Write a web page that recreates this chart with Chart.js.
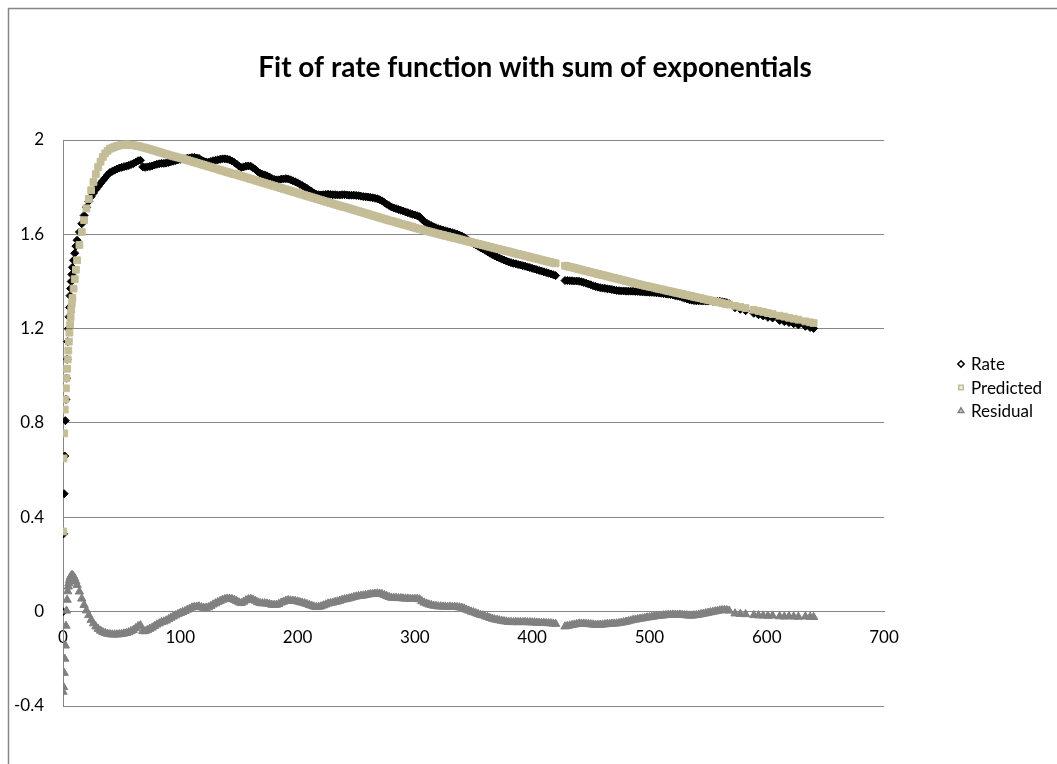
<!DOCTYPE html>
<html>
<head>
<meta charset="utf-8">
<script src="https://cdn.jsdelivr.net/npm/chart.js@4/dist/chart.umd.min.js"></script>
<style>
  html, body { margin: 0; padding: 0; background: #fff; }
  #wrap { width: 1057px; height: 764px; }
</style>
</head>
<body>
<div id="wrap"><canvas id="chart" width="1057" height="764"></canvas></div>
<script>
// Sample times (x values shared by all three series)
const time = [
  0, 0.5, 1, 1.5, 2, 2.5, 3, 3.5, 4, 4.5, 5, 5.5, 6, 6.5, 7, 7.5, 8, 9, 10, 11,
  12, 14, 16, 18, 20, 22, 24, 26, 28, 30, 32, 34, 36, 38,
  40, 42, 44, 46, 48, 50, 52, 54, 56, 58,
  60, 62, 64, 66, 68, 70, 72, 74, 76, 78,
  80, 82, 84, 86, 88, 90, 92, 94, 96, 98,
  100, 102, 104, 106, 108, 110, 112, 114, 116, 118,
  120, 122, 124, 126, 128, 130, 132, 134, 136, 138,
  140, 142, 144, 146, 148, 150, 152, 154, 156, 158,
  160, 162, 164, 166, 168, 170, 172, 174, 176, 178,
  180, 182, 184, 186, 188, 190, 192, 194, 196, 198,
  200, 202, 204, 206, 208, 210, 212, 214, 216, 218,
  220, 222, 224, 226, 228, 230, 232, 234, 236, 238,
  240, 242, 244, 246, 248, 250, 252, 254, 256, 258,
  260, 262, 264, 266, 268, 270, 272, 274, 276, 278,
  280, 282, 284, 286, 288, 290, 292, 294, 296, 298,
  300, 302, 304, 306, 308, 310, 312, 314, 316, 318,
  320, 322, 324, 326, 328, 330, 332, 334, 336, 338,
  340, 342, 344, 346, 348, 350, 352, 354, 356, 358,
  360, 362, 364, 366, 368, 370, 372, 374, 376, 378,
  380, 382, 384, 386, 388, 390, 392, 394, 396, 398,
  400, 402, 404, 406, 408, 410, 412, 414, 416, 418,
  420,
  428, 430, 432, 434, 436, 438, 440, 442, 444, 446,
  448, 450, 452, 454, 456, 458, 460, 462, 464, 466,
  468, 470, 472, 474, 476, 478, 480, 482, 484, 486,
  488, 490, 492, 494, 496, 498, 500, 502, 504, 506,
  508, 510, 512, 514, 516, 518, 520, 522, 524, 526,
  528, 530, 532, 534, 536, 538, 540, 542, 544, 546,
  548, 550, 552, 554, 556, 558, 560, 562, 564, 566,
  568,
  573, 577.5, 582, 589, 593, 597, 601, 605, 611, 615, 619, 623, 627, 633, 637, 640
];

// Measured rate
const rate = [
  0, 0.33, 0.50, 0.66, 0.81, 0.90, 0.99, 1.07, 1.145, 1.20, 1.25, 1.29, 1.34, 1.37, 1.40, 1.43, 1.46, 1.49, 1.52, 1.55,
  1.575, 1.61, 1.645, 1.68, 1.715, 1.74, 1.76, 1.775, 1.79, 1.803, 1.816, 1.828, 1.84, 1.852,
  1.862, 1.867, 1.872, 1.877, 1.881, 1.884, 1.887, 1.889, 1.892, 1.896,
  1.900, 1.906, 1.912, 1.914, 1.886, 1.884, 1.886, 1.888, 1.890, 1.894,
  1.897, 1.899, 1.901, 1.901, 1.902, 1.905, 1.908, 1.910, 1.913, 1.916,
  1.918, 1.919, 1.920, 1.923, 1.924, 1.926, 1.926, 1.924, 1.922, 1.915,
  1.910, 1.907, 1.906, 1.909, 1.912, 1.914, 1.916, 1.918, 1.920, 1.920,
  1.919, 1.916, 1.911, 1.905, 1.898, 1.889, 1.883, 1.886, 1.889, 1.890,
  1.889, 1.882, 1.875, 1.866, 1.859, 1.855, 1.852, 1.848, 1.843, 1.837,
  1.833, 1.831, 1.831, 1.834, 1.835, 1.836, 1.835, 1.831, 1.827, 1.823,
  1.818, 1.812, 1.807, 1.801, 1.795, 1.788, 1.782, 1.775, 1.770, 1.768,
  1.767, 1.768, 1.769, 1.770, 1.769, 1.768, 1.768, 1.767, 1.767, 1.768,
  1.768, 1.767, 1.766, 1.766, 1.766, 1.765, 1.764, 1.762, 1.760, 1.759,
  1.758, 1.757, 1.755, 1.753, 1.751, 1.747, 1.742, 1.735, 1.728, 1.722,
  1.716, 1.712, 1.709, 1.705, 1.702, 1.699, 1.695, 1.692, 1.688, 1.685,
  1.682, 1.679, 1.675, 1.664, 1.655, 1.648, 1.642, 1.637, 1.632, 1.628,
  1.624, 1.621, 1.618, 1.615, 1.612, 1.610, 1.607, 1.604, 1.601, 1.597,
  1.593, 1.587, 1.580, 1.573, 1.567, 1.561, 1.555, 1.549, 1.543, 1.538,
  1.532, 1.526, 1.520, 1.514, 1.509, 1.504, 1.500, 1.495, 1.491, 1.487,
  1.483, 1.480, 1.477, 1.475, 1.472, 1.470, 1.467, 1.465, 1.462, 1.459,
  1.456, 1.453, 1.450, 1.447, 1.444, 1.441, 1.438, 1.435, 1.432, 1.429,
  1.425,
  1.404, 1.404, 1.403, 1.403, 1.402, 1.402, 1.401, 1.399, 1.396, 1.393,
  1.389, 1.386, 1.382, 1.379, 1.376, 1.374, 1.372, 1.371, 1.369, 1.368,
  1.366, 1.364, 1.362, 1.361, 1.360, 1.360, 1.359, 1.359, 1.359, 1.359,
  1.358, 1.358, 1.357, 1.356, 1.355, 1.355, 1.354, 1.354, 1.353, 1.352,
  1.351, 1.350, 1.349, 1.347, 1.346, 1.345, 1.343, 1.340, 1.338, 1.336,
  1.333, 1.329, 1.326, 1.323, 1.321, 1.319, 1.318, 1.318, 1.318, 1.317,
  1.317, 1.317, 1.317, 1.316, 1.316, 1.316, 1.316, 1.314, 1.313, 1.310,
  1.306,
  1.289, 1.282, 1.276, 1.265, 1.259, 1.254, 1.248, 1.245, 1.235, 1.230, 1.226, 1.221, 1.216, 1.210, 1.205, 1.201
];

// Fitted sum of exponentials
const predicted = [
  0.34, 0.65, 0.756, 0.857, 0.90, 0.947, 0.99, 1.03, 1.07, 1.107, 1.145, 1.183, 1.217, 1.248, 1.28, 1.307, 1.33, 1.37, 1.41, 1.45,
  1.49, 1.555, 1.61, 1.66, 1.71, 1.75, 1.787, 1.822, 1.855, 1.885, 1.908, 1.928, 1.943, 1.954,
  1.963, 1.967, 1.971, 1.974, 1.977, 1.979, 1.980, 1.981, 1.980, 1.979,
  1.978, 1.976, 1.974, 1.972, 1.969, 1.967, 1.964, 1.961, 1.958, 1.955,
  1.952, 1.949, 1.946, 1.943, 1.940, 1.937, 1.934, 1.931, 1.929, 1.926,
  1.924, 1.921, 1.918, 1.915, 1.912, 1.909, 1.906, 1.903, 1.900, 1.897,
  1.894, 1.891, 1.888, 1.885, 1.882, 1.879, 1.876, 1.873, 1.870, 1.867,
  1.864, 1.861, 1.858, 1.855, 1.853, 1.850, 1.847, 1.844, 1.841, 1.838,
  1.835, 1.832, 1.829, 1.826, 1.823, 1.820, 1.817, 1.814, 1.811, 1.808,
  1.805, 1.802, 1.799, 1.796, 1.793, 1.790, 1.787, 1.784, 1.781, 1.778,
  1.775, 1.772, 1.769, 1.766, 1.763, 1.760, 1.757, 1.754, 1.751, 1.748,
  1.745, 1.742, 1.739, 1.736, 1.733, 1.730, 1.727, 1.724, 1.721, 1.718,
  1.716, 1.713, 1.710, 1.707, 1.704, 1.701, 1.698, 1.695, 1.692, 1.689,
  1.686, 1.683, 1.680, 1.677, 1.674, 1.671, 1.668, 1.665, 1.662, 1.659,
  1.657, 1.654, 1.651, 1.648, 1.645, 1.642, 1.640, 1.637, 1.634, 1.631,
  1.628, 1.625, 1.623, 1.620, 1.617, 1.614, 1.612, 1.609, 1.607, 1.604,
  1.602, 1.599, 1.597, 1.594, 1.592, 1.589, 1.587, 1.584, 1.582, 1.579,
  1.577, 1.574, 1.572, 1.569, 1.567, 1.564, 1.562, 1.559, 1.557, 1.554,
  1.552, 1.549, 1.547, 1.544, 1.542, 1.539, 1.537, 1.534, 1.532, 1.529,
  1.527, 1.524, 1.522, 1.519, 1.517, 1.514, 1.512, 1.509, 1.507, 1.504,
  1.502, 1.499, 1.497, 1.494, 1.492, 1.489, 1.487, 1.484, 1.482, 1.479,
  1.477,
  1.467, 1.465, 1.462, 1.460, 1.457, 1.455, 1.452, 1.450, 1.447, 1.445,
  1.442, 1.440, 1.437, 1.435, 1.432, 1.430, 1.427, 1.425, 1.422, 1.420,
  1.417, 1.415, 1.412, 1.410, 1.407, 1.405, 1.402, 1.400, 1.397, 1.395,
  1.392, 1.390, 1.387, 1.385, 1.382, 1.380, 1.378, 1.376, 1.374, 1.371,
  1.369, 1.367, 1.365, 1.362, 1.360, 1.358, 1.356, 1.353, 1.351, 1.349,
  1.347, 1.344, 1.342, 1.340, 1.338, 1.335, 1.333, 1.331, 1.329, 1.326,
  1.324, 1.322, 1.320, 1.317, 1.315, 1.313, 1.311, 1.308, 1.306, 1.304,
  1.302,
  1.297, 1.292, 1.287, 1.280, 1.275, 1.271, 1.266, 1.262, 1.255, 1.251, 1.246, 1.242, 1.238, 1.231, 1.227, 1.224
];

// Rate minus fit
const residual = [
  -0.34, -0.32, -0.26, -0.2, -0.144, -0.06, 0.004, 0.05, 0.086, 0.106, 0.12, 0.132, 0.141, 0.148, 0.152, 0.154, 0.154, 0.15, 0.14, 0.128,
  0.113, 0.085, 0.055, 0.028, 0.005, -0.015, -0.035, -0.05, -0.063, -0.073, -0.081, -0.087, -0.091, -0.094,
  -0.096, -0.097, -0.097, -0.097, -0.096, -0.095, -0.093, -0.091, -0.088, -0.083,
  -0.078, -0.070, -0.062, -0.058, -0.083, -0.083, -0.078, -0.073, -0.068, -0.061,
  -0.055, -0.050, -0.045, -0.042, -0.038, -0.032, -0.026, -0.021, -0.016, -0.010,
  -0.006, -0.002, 0.002, 0.008, 0.012, 0.017, 0.020, 0.021, 0.022, 0.018,
  0.016, 0.016, 0.018, 0.024, 0.030, 0.035, 0.040, 0.045, 0.050, 0.053,
  0.055, 0.055, 0.053, 0.050, 0.045, 0.039, 0.036, 0.042, 0.048, 0.052,
  0.054, 0.050, 0.046, 0.040, 0.036, 0.035, 0.035, 0.034, 0.032, 0.029,
  0.028, 0.029, 0.032, 0.038, 0.042, 0.046, 0.048, 0.047, 0.046, 0.045,
  0.043, 0.040, 0.038, 0.035, 0.032, 0.028, 0.025, 0.021, 0.019, 0.020,
  0.022, 0.026, 0.030, 0.034, 0.036, 0.038, 0.041, 0.043, 0.046, 0.050,
  0.052, 0.054, 0.056, 0.059, 0.062, 0.064, 0.066, 0.067, 0.068, 0.070,
  0.072, 0.074, 0.075, 0.076, 0.077, 0.076, 0.074, 0.070, 0.066, 0.062,
  0.059, 0.058, 0.058, 0.057, 0.057, 0.056, 0.055, 0.055, 0.054, 0.054,
  0.054, 0.054, 0.052, 0.044, 0.038, 0.034, 0.030, 0.028, 0.025, 0.024,
  0.022, 0.022, 0.021, 0.021, 0.020, 0.021, 0.020, 0.020, 0.019, 0.018,
  0.016, 0.013, 0.008, 0.004, 0.000, -0.003, -0.007, -0.010, -0.014, -0.016,
  -0.020, -0.023, -0.027, -0.030, -0.033, -0.035, -0.037, -0.039, -0.041, -0.042,
  -0.044, -0.044, -0.045, -0.044, -0.045, -0.044, -0.045, -0.044, -0.045, -0.045,
  -0.046, -0.046, -0.047, -0.047, -0.048, -0.048, -0.049, -0.049, -0.050, -0.051,
  -0.052,
  -0.063, -0.061, -0.059, -0.057, -0.055, -0.053, -0.051, -0.051, -0.051, -0.052,
  -0.053, -0.054, -0.055, -0.056, -0.056, -0.056, -0.055, -0.054, -0.053, -0.052,
  -0.051, -0.051, -0.050, -0.049, -0.047, -0.045, -0.043, -0.041, -0.038, -0.036,
  -0.034, -0.032, -0.030, -0.029, -0.027, -0.025, -0.024, -0.022, -0.021, -0.019,
  -0.018, -0.017, -0.016, -0.015, -0.014, -0.013, -0.013, -0.013, -0.013, -0.013,
  -0.014, -0.015, -0.016, -0.017, -0.017, -0.016, -0.015, -0.013, -0.011, -0.009,
  -0.007, -0.005, -0.003, -0.001, 0.001, 0.003, 0.005, 0.006, 0.007, 0.006,
  0.004,
  -0.008, -0.01, -0.011, -0.015, -0.016, -0.017, -0.018, -0.017, -0.02, -0.021, -0.02, -0.021, -0.022, -0.021, -0.022, -0.023
];

const xTicks = [0, 100, 200, 300, 400, 500, 600, 700];
const yTicks = [-0.4, 0, 0.4, 0.8, 1.2, 1.6, 2];

const TAN = '#C4BD97';
const GREY = '#808080';
const GRID = '#868686';
const FONT = 'Lato';

const points = (ys) => time.map((t, i) => ({ x: t, y: ys[i] }));

// White background and the outer frame of the chart sheet
const framePlugin = {
  id: 'frame',
  beforeDraw(chart) {
    const { ctx, width, height } = chart;
    ctx.save();
    ctx.fillStyle = '#fff';
    ctx.fillRect(0, 0, width, height);
    ctx.strokeStyle = GRID;
    ctx.lineWidth = 1.5;
    ctx.beginPath();
    ctx.moveTo(8.5, height);
    ctx.lineTo(8.5, 8.5);
    ctx.lineTo(width, 8.5);
    ctx.stroke();
    ctx.restore();
  }
};

// Legend on the right, drawn beside the plot
const sideLegend = {
  id: 'sideLegend',
  afterDraw(chart) {
    const { ctx, chartArea } = chart;
    const x0 = chartArea.right + 77;
    const y0 = 364;
    const gap = 23.5;
    chart.data.datasets.forEach((ds, i) => {
      const y = y0 + i * gap;
      ctx.save();
      ctx.fillStyle = ds.legendFill;
      ctx.strokeStyle = ds.borderColor;
      ctx.lineWidth = 1.5;
      Chart.helpers.drawPoint(ctx, { pointStyle: ds.pointStyle, radius: 3.2, borderWidth: 1.5, rotation: 0 }, x0, y);
      ctx.fillStyle = '#000';
      ctx.font = '17px ' + FONT;
      ctx.textBaseline = 'middle';
      ctx.textAlign = 'left';
      ctx.fillText(ds.label, x0 + 10, y + 1);
      ctx.restore();
    });
  }
};

new Chart(document.getElementById('chart'), {
  type: 'scatter',
  data: {
    datasets: [
      {
        label: 'Rate',
        data: points(rate),
        pointStyle: 'rectRot',
        pointRadius: 4,
        borderWidth: 1,
        borderColor: '#000',
        backgroundColor: '#000',
        legendFill: '#fff',
        order: 3
      },
      {
        label: 'Predicted',
        data: points(predicted),
        pointStyle: 'rect',
        pointRadius: 4.8,
        borderWidth: 1,
        borderColor: TAN,
        backgroundColor: TAN,
        legendFill: '#EEECE1',
        order: 2
      },
      {
        label: 'Residual',
        data: points(residual),
        pointStyle: 'triangle',
        pointRadius: 4.8,
        borderWidth: 1,
        borderColor: GREY,
        backgroundColor: GREY,
        legendFill: '#D9D9D9',
        order: 1
      }
    ]
  },
  options: {
    responsive: false,
    animation: false,
    layout: { padding: { left: 13, right: 0, top: 13, bottom: 58 } },
    plugins: {
      legend: { display: false },
      tooltip: { enabled: false },
      title: {
        display: true,
        text: 'Fit of rate function with sum of exponentials',
        color: '#000',
        font: { family: FONT, size: 28, weight: 'bold' },
        padding: { top: 38.2, bottom: 55.2 }
      }
    },
    scales: {
      x: {
        type: 'linear',
        min: 0,
        max: 700,
        position: { y: 0 },
        afterBuildTicks: (s) => { s.ticks = xTicks.map(v => ({ value: v })); },
        ticks: {
          color: '#000',
          font: { family: FONT, size: 17 },
          padding: 16,
          maxRotation: 0,
          callback: (v) => String(v)
        },
        grid: { display: false, drawTicks: false },
        border: { display: true, color: GRID, width: 1 }
      },
      y: {
        type: 'linear',
        min: -0.4,
        max: 2,
        afterBuildTicks: (s) => { s.ticks = yTicks.map(v => ({ value: v })); },
        afterFit: (s) => { s.width = 50; },
        ticks: {
          color: '#000',
          font: { family: FONT, size: 17 },
          padding: 19,
          callback: (v) => String(Math.round(v * 10) / 10)
        },
        grid: { color: GRID, lineWidth: 1, drawTicks: false },
        border: { display: true, color: GRID, width: 1 }
      },
      side: {
        type: 'linear',
        position: 'right',
        display: true,
        afterFit: (s) => { s.width = 173; },
        ticks: { display: false },
        grid: { display: false, drawTicks: false },
        border: { display: false }
      }
    }
  },
  plugins: [framePlugin, sideLegend]
});
</script>
</body>
</html>
